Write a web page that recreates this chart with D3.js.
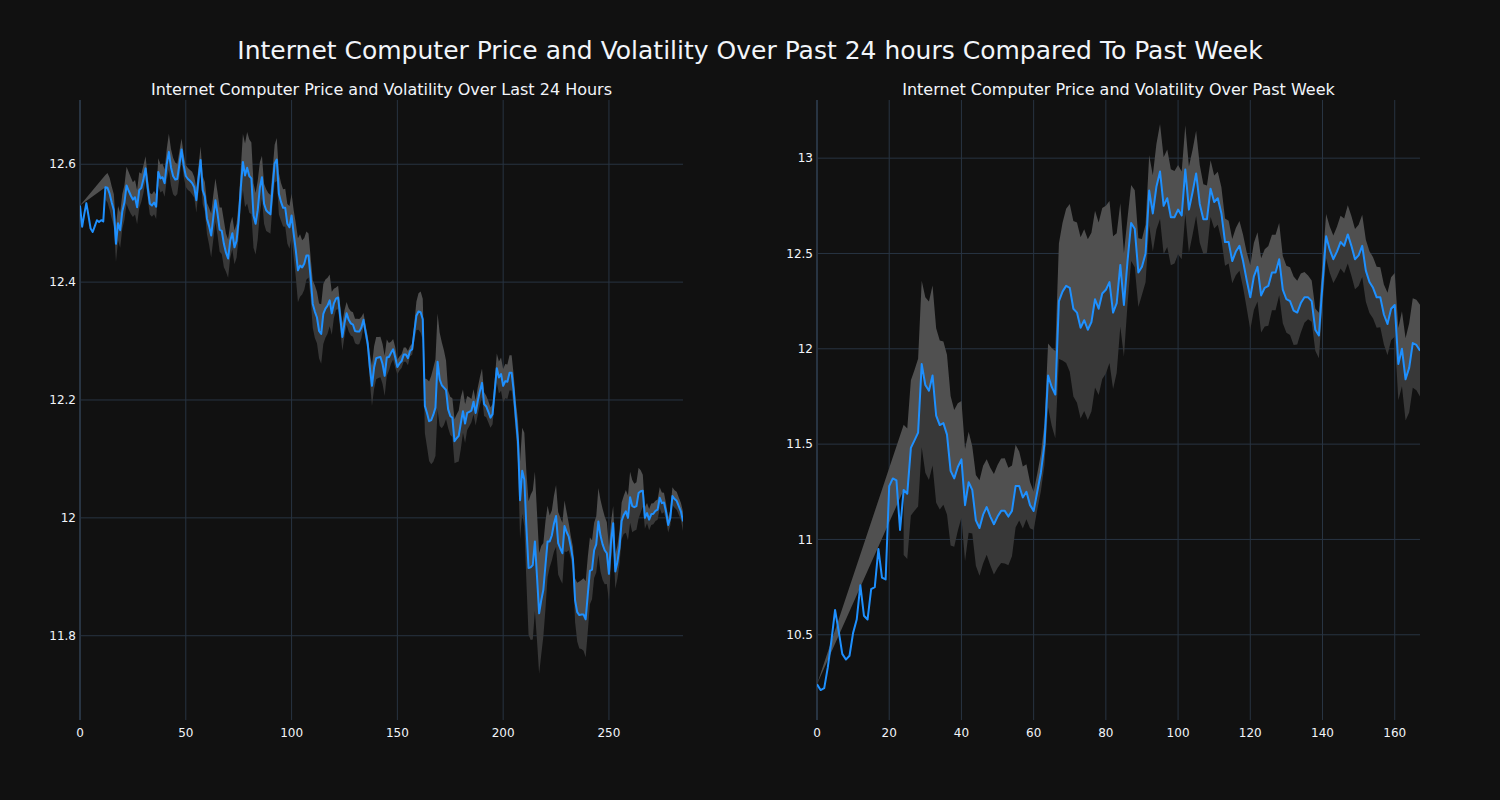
<!DOCTYPE html>
<html>
<head>
<meta charset="utf-8">
<script src="https://cdn.jsdelivr.net/npm/d3@7"></script>
<style>
  html, body { margin: 0; padding: 0; background: #111111; }
  svg { display: block; }
</style>
</head>
<body>
<div id="chart"></div>
<script>
// ---------------- DATA ----------------
const mainTitle = "Internet Computer Price and Volatility Over Past 24 hours Compared To Past Week";
const leftTitle = "Internet Computer Price and Volatility Over Last 24 Hours";
const rightTitle = "Internet Computer Price and Volatility Over Past Week";

// 5-minute prices over last 24 hours (index 0..285)
const leftPrice = [
  12.530,12.494,12.515,12.534,12.513,12.491,12.485,12.495,12.505,12.502,
  12.505,12.503,12.561,12.560,12.550,12.535,12.522,12.465,12.500,12.488,
  12.520,12.535,12.564,12.555,12.547,12.540,12.544,12.527,12.556,12.560,
  12.575,12.593,12.560,12.533,12.530,12.535,12.528,12.587,12.576,12.578,
  12.568,12.600,12.621,12.595,12.580,12.574,12.575,12.600,12.625,12.598,
  12.580,12.575,12.572,12.568,12.561,12.539,12.575,12.607,12.556,12.545,
  12.508,12.495,12.479,12.510,12.539,12.516,12.489,12.487,12.465,12.450,
  12.440,12.470,12.483,12.459,12.470,12.505,12.560,12.604,12.581,12.594,
  12.580,12.576,12.513,12.499,12.522,12.560,12.578,12.533,12.522,12.518,
  12.515,12.560,12.601,12.608,12.550,12.536,12.526,12.526,12.499,12.493,
  12.513,12.482,12.454,12.420,12.428,12.425,12.431,12.445,12.445,12.408,
  12.363,12.350,12.340,12.317,12.312,12.346,12.355,12.360,12.369,12.347,
  12.364,12.372,12.374,12.340,12.307,12.330,12.347,12.336,12.330,12.328,
  12.317,12.316,12.316,12.323,12.336,12.315,12.295,12.255,12.224,12.255,
  12.271,12.272,12.273,12.261,12.241,12.272,12.273,12.280,12.286,12.272,
  12.256,12.262,12.266,12.277,12.277,12.271,12.283,12.286,12.315,12.343,
  12.350,12.349,12.337,12.190,12.178,12.164,12.166,12.175,12.187,12.265,
  12.235,12.225,12.221,12.217,12.184,12.173,12.170,12.130,12.135,12.139,
  12.161,12.181,12.160,12.178,12.180,12.182,12.197,12.178,12.198,12.215,
  12.229,12.193,12.189,12.180,12.170,12.176,12.215,12.254,12.238,12.244,
  12.224,12.232,12.231,12.246,12.246,12.215,12.170,12.130,12.030,12.080,
  12.065,11.983,11.915,11.916,11.920,11.960,11.900,11.838,11.860,11.878,
  11.920,11.960,11.960,11.970,11.990,12.003,11.957,11.948,11.940,11.986,
  11.976,11.968,11.950,11.929,11.860,11.840,11.835,11.836,11.836,11.828,
  11.870,11.910,11.912,11.945,11.955,11.994,11.970,11.955,11.945,11.940,
  11.905,11.960,11.991,11.909,11.925,11.950,11.995,12.005,12.011,12.000,
  12.035,12.020,12.018,12.020,12.042,12.045,12.046,12.000,12.008,11.997,
  12.006,12.007,12.012,12.014,12.034,12.025,12.026,12.010,11.988,12.000,
  12.037,12.032,12.029,12.020,12.011,11.994
];

// hourly prices over past week (index 0..167)
const rightPrice = [
  10.24,10.21,10.22,10.33,10.47,10.63,10.52,10.40,10.37,10.39,
  10.51,10.58,10.76,10.60,10.58,10.74,10.75,10.95,10.80,10.79,
  11.28,11.32,11.31,11.05,11.26,11.24,11.48,11.52,11.56,11.92,
  11.81,11.78,11.86,11.65,11.60,11.61,11.55,11.36,11.32,11.38,
  11.42,11.18,11.30,11.26,11.10,11.06,11.13,11.17,11.12,11.08,
  11.12,11.15,11.15,11.12,11.15,11.28,11.28,11.22,11.25,11.18,
  11.15,11.25,11.35,11.50,11.86,11.80,11.76,12.25,12.30,12.33,
  12.32,12.21,12.19,12.11,12.15,12.10,12.14,12.26,12.21,12.29,
  12.31,12.35,12.19,12.24,12.44,12.23,12.46,12.66,12.63,12.40,
  12.43,12.50,12.83,12.71,12.85,12.93,12.75,12.79,12.69,12.69,
  12.73,12.70,12.94,12.73,12.82,12.92,12.76,12.68,12.68,12.84,
  12.77,12.79,12.71,12.56,12.56,12.46,12.51,12.54,12.46,12.36,
  12.27,12.38,12.43,12.28,12.32,12.33,12.40,12.40,12.47,12.31,
  12.26,12.25,12.20,12.19,12.24,12.27,12.27,12.25,12.10,12.07,
  12.34,12.59,12.52,12.47,12.51,12.56,12.54,12.60,12.54,12.47,
  12.49,12.54,12.41,12.35,12.32,12.27,12.27,12.18,12.13,12.21,
  12.23,11.92,12.00,11.84,11.90,12.03,12.02,11.99
];

// rolling volatility windows (number of samples)
const leftWindow = 12;
const rightWindow = 24;

// axis settings
const leftYDomain = [11.657, 12.709];
const rightYDomain = [10.053, 13.305];
const leftYTicks = [11.8, 12, 12.2, 12.4, 12.6];
const rightYTicks = [10.5, 11, 11.5, 12, 12.5, 13];
const leftXTicks = [0, 50, 100, 150, 200, 250];
const rightXTicks = [0, 20, 40, 60, 80, 100, 120, 140, 160];

// ---------------- DRAW ----------------
const W = 1500, H = 800;
const FONT = "'DejaVu Sans', Verdana, sans-serif";
const TXT = "#f2f5fa";
const GRID = "#283442";

const svg = d3.select("#chart").append("svg")
  .attr("width", W).attr("height", H)
  .style("background", "#111111");

svg.append("rect").attr("width", W).attr("height", H).attr("fill", "#111111");

svg.append("text")
  .attr("x", 750).attr("y", 59)
  .attr("text-anchor", "middle")
  .attr("font-family", FONT).attr("font-size", 25)
  .attr("fill", TXT)
  .text(mainTitle);

function rollingStd(arr, w) {
  return arr.map((v, i) => {
    if (i === 0) return 0;
    if (i < w) return null;
    const s = arr.slice(i - w + 1, i + 1);
    const m = d3.mean(s);
    return Math.sqrt(d3.sum(s, x => (x - m) * (x - m)) / (s.length - 1));
  });
}

function panel(x0, x1, price, win, yDomain, yTicks, xTicks, title) {
  const top = 100, bottom = 720;
  const x = d3.scaleLinear().domain([0, price.length - 1]).range([x0, x1]);
  const y = d3.scaleLinear().domain(yDomain).range([bottom, top]);
  const g = svg.append("g");

  const clipId = "clip" + Math.round(x0);
  svg.append("clipPath").attr("id", clipId)
    .append("rect").attr("x", x0).attr("y", top).attr("width", x1 - x0).attr("height", bottom - top);

  // grid
  g.selectAll(".hg").data(yTicks).join("line")
    .attr("x1", x0).attr("x2", x1)
    .attr("y1", d => y(d)).attr("y2", d => y(d))
    .attr("stroke", GRID).attr("stroke-width", 1);
  g.selectAll(".vg").data(xTicks.filter(d => d !== 0)).join("line")
    .attr("x1", d => x(d)).attr("x2", d => x(d))
    .attr("y1", top).attr("y2", bottom)
    .attr("stroke", GRID).attr("stroke-width", 1);
  // zero line
  g.append("line")
    .attr("x1", x(0)).attr("x2", x(0)).attr("y1", top).attr("y2", bottom)
    .attr("stroke", GRID).attr("stroke-width", 2);

  const std = rollingStd(price, win);
  const pts = price.map((p, i) => ({ i, p, s: std[i] })).filter(d => d.s !== null);
  const ptsFull = pts.filter(d => d.i >= win);

  const plot = g.append("g").attr("clip-path", `url(#${clipId})`);
  plot.append("path").datum(ptsFull)
    .attr("d", d3.area().x(d => x(d.i)).y0(d => y(d.p - d.s)).y1(d => y(d.p)))
    .attr("fill", "#383838");
  plot.append("path").datum(pts)
    .attr("d", d3.area().x(d => x(d.i)).y0(d => y(d.p)).y1(d => y(d.p + d.s)))
    .attr("fill", "#505050");
  plot.append("path").datum(price)
    .attr("d", d3.line().x((d, i) => x(i)).y(d => y(d)))
    .attr("fill", "none").attr("stroke", "#1e90ff").attr("stroke-width", 2)
    .attr("stroke-linejoin", "round");

  // tick labels
  g.selectAll(".yl").data(yTicks).join("text")
    .attr("x", x0 - 4).attr("y", d => y(d)).attr("dy", "0.35em")
    .attr("text-anchor", "end")
    .attr("font-family", FONT).attr("font-size", 12).attr("fill", TXT)
    .text(d => d3.format("~g")(d));
  g.selectAll(".xl").data(xTicks).join("text")
    .attr("x", d => x(d)).attr("y", bottom + 13).attr("dy", "0.35em")
    .attr("text-anchor", "middle")
    .attr("font-family", FONT).attr("font-size", 12).attr("fill", TXT)
    .text(d => d);

  svg.append("text")
    .attr("x", (x0 + x1) / 2).attr("y", 95)
    .attr("text-anchor", "middle")
    .attr("font-family", FONT).attr("font-size", 16).attr("fill", TXT)
    .text(title);
}

panel(80, 683, leftPrice, leftWindow, leftYDomain, leftYTicks, leftXTicks, leftTitle);
panel(817, 1420, rightPrice, rightWindow, rightYDomain, rightYTicks, rightXTicks, rightTitle);
</script>
</body>
</html>
